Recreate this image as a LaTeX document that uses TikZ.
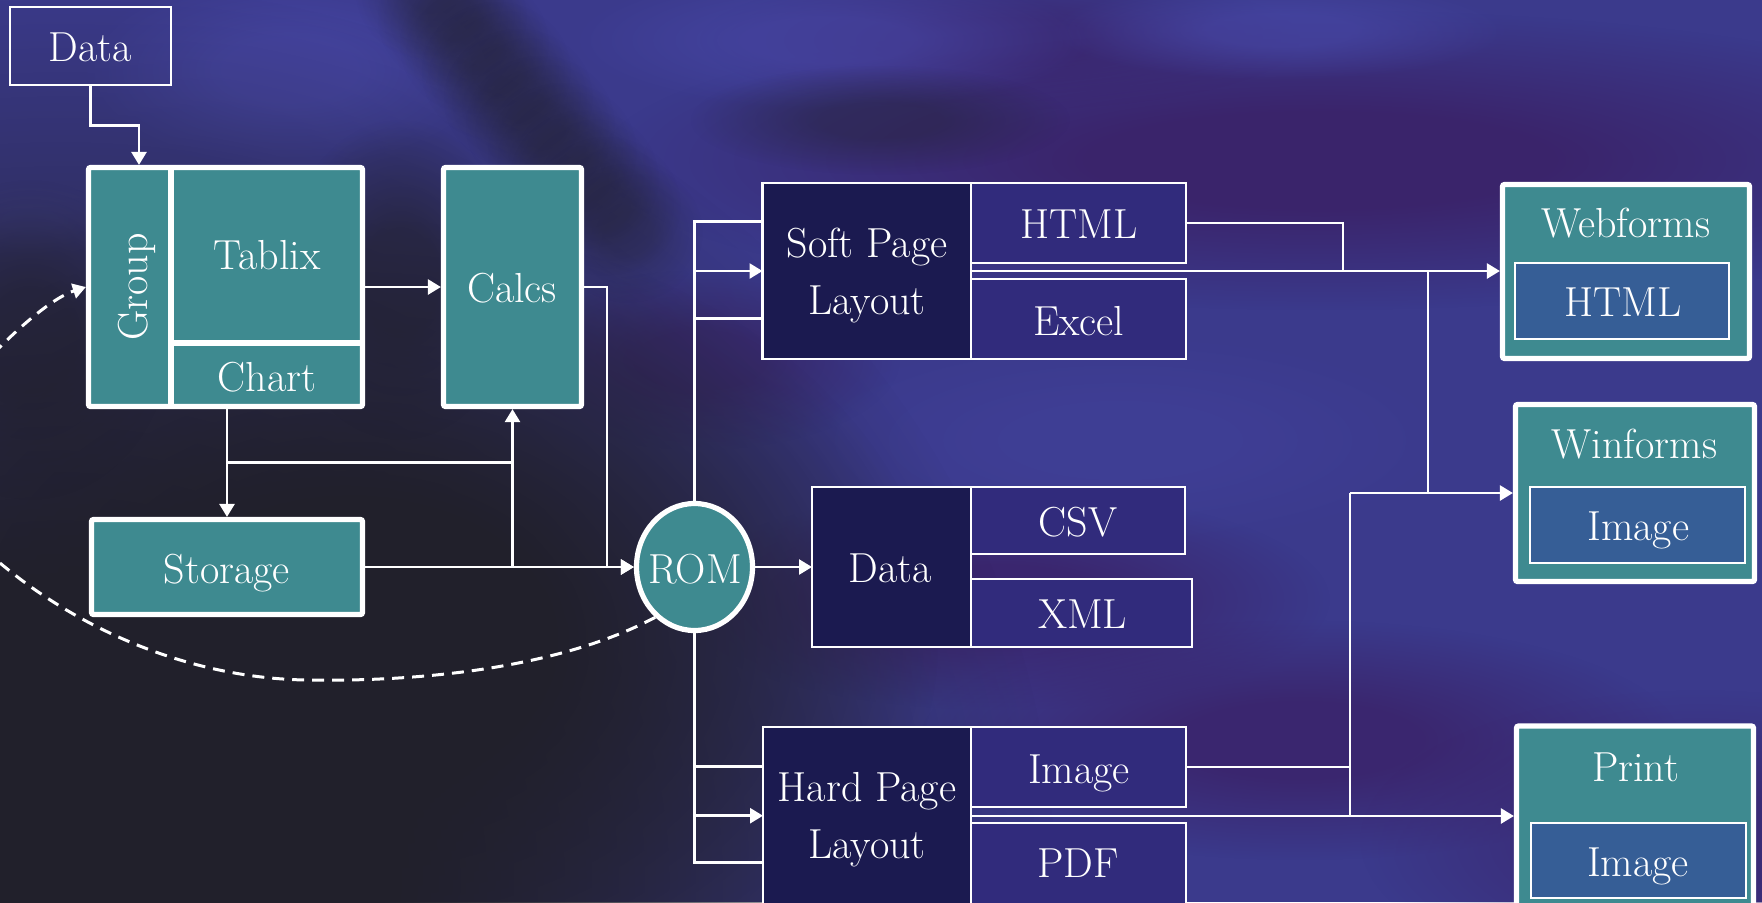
\documentclass[tikz,border=0pt]{standalone}
\usetikzlibrary{shapes.geometric,arrows.meta,calc,fadings}
\definecolor{cteal}{HTML}{3E8A90}
\definecolor{csteel}{HTML}{365E96}
\definecolor{cnavy}{HTML}{1B1A50}
\definecolor{cmid}{HTML}{312B7C}
\definecolor{bgblue}{HTML}{3B3A8C}
\definecolor{bgpurple}{HTML}{3A2268}
\definecolor{bgdark}{HTML}{21202B}
\definecolor{bglight}{HTML}{4848A8}
\pgfdeclareradialshading{platsh}{\pgfpointorigin}{color(0bp)=(pgftransparent!0); color(8bp)=(pgftransparent!0); color(25bp)=(pgftransparent!100); color(50bp)=(pgftransparent!100)}
\pgfdeclarefading{plateau}{\pgfuseshading{platsh}}
\newcommand\blob[6]{\fill[#1,opacity=#6,path fading=plateau] (#2,#3) ellipse [x radius=#4, y radius=#5];}
\begin{document}
\begin{tikzpicture}[x=0.5pt,y=-0.5pt,
  font=\fontsize{21}{28.5}\selectfont,
  sz/.style 2 args={minimum width=#1*0.5pt, minimum height=#2*0.5pt},
  tbox/.style={draw=white,line width=2.6pt,fill=cteal,inner sep=0pt,outer sep=1.3pt,rounded corners=1pt},
  nbox/.style={draw=white,line width=1.2pt,inner sep=0pt,outer sep=0pt},
  lbl/.style={text=white,inner sep=0pt,anchor=base},
  conn/.style={white,line width=1.3pt},
  arr/.style={conn,-{Triangle[length=6.5pt,width=7.5pt]}}]
\useasboundingbox (0,0) rectangle (1762,902);
\begin{scope}
\clip (0,0) rectangle (1762,902);
\fill[bgblue] (0,0) rectangle (1762,902);
% purple areas
\blob{bgpurple}{1320}{160}{720}{150}{0.9}
\blob{bgpurple}{1000}{40}{300}{70}{0.6}
\blob{bgpurple}{1000}{600}{330}{110}{0.8}
\blob{bgpurple}{1300}{740}{380}{120}{0.8}
\blob{bgpurple}{1700}{840}{340}{150}{0.6}
\blob{bgpurple}{700}{360}{200}{90}{0.6}
% light blue areas
\blob{bglight}{290}{70}{210}{100}{0.7}
\blob{bglight}{830}{40}{260}{70}{0.6}
\blob{bglight}{1280}{30}{230}{50}{0.6}
\blob{bglight}{1120}{440}{340}{110}{0.3}
\blob{bglight}{30}{220}{90}{40}{0.5}
% dark areas
\blob{bgdark}{60}{880}{1000}{900}{1}
\blob{bgdark}{360}{640}{580}{420}{1}
\foreach \t in {0,0.1,...,1.0}{\blob{bgdark}{430+220*\t}{-10+270*\t}{75}{70}{0.3}}
\blob{bgdark}{880}{120}{190}{55}{0.4}
\blob{bgdark}{400}{280}{120}{160}{0.6}
\blob{bgdark}{30}{340}{140}{160}{0.6}
\end{scope}
% top data box
\node[nbox,sz={161}{78}] (src) at (90.5,46) {};
\node[lbl] at (90.5,61) {Data};
% group / tablix / chart
\node[tbox,sz={274}{239}] (big) at (225.5,287) {};
\draw[white,line width=3pt] (171,167) -- (171,407);
\draw[white,line width=3pt] (171,343) -- (363,343);
\node[lbl,rotate=90] at (147,287) {Group};
\node[lbl] at (267,269) {Tablix};
\node[lbl] at (267,391) {Chart};
% calcs
\node[tbox,sz={138}{239}] (calcs) at (512.5,287) {};
\node[lbl] at (512,302) {Calcs};
% storage
\node[tbox,sz={271}{95}] (stor) at (227,567) {};
\node[lbl] at (227,583) {Storage};
% ROM
\node[tbox,ellipse,sz={116}{127}] (rom) at (694.5,567) {};
\node[lbl] at (695,583) {ROM};
% soft page layout
\node[nbox,fill=cnavy,sz={208.5}{176}] (soft) at (866.75,271) {};
\node[text=white,inner sep=0pt,align=center] at (867,276) {Soft Page\\Layout};
\node[nbox,fill=cmid,sz={215}{80}] (html1) at (1078.5,223) {};
\node[lbl] at (1078.8,238.3) {HTML};
\node[nbox,fill=cmid,sz={215}{80}] (excel) at (1078.5,319) {};
\node[lbl] at (1078.8,335) {Excel};
% data
\node[nbox,fill=cnavy,sz={159}{160}] (dat) at (891.5,567) {};
\node[lbl] at (890,582.7) {Data};
\node[nbox,fill=cmid,sz={214}{67}] (csv) at (1078,520.5) {};
\node[lbl] at (1078,536.7) {CSV};
\node[nbox,fill=cmid,sz={221}{68}] (xml) at (1081.5,613) {};
\node[lbl] at (1082.5,628.3) {XML};
% hard page layout
\node[nbox,fill=cnavy,sz={208}{178}] (hard) at (867,816) {};
\node[text=white,inner sep=0pt,align=center] at (867,819.4) {Hard Page\\Layout};
\node[nbox,fill=cmid,sz={215}{80}] (img1) at (1078.5,767) {};
\node[lbl] at (1079,783.3) {Image};
\node[nbox,fill=cmid,sz={215}{82}] (pdf) at (1078.5,864) {};
\node[lbl] at (1078,877.7) {PDF};
% right column
\node[tbox,sz={247}{174}] (web) at (1626,271.5) {};
\node[lbl] at (1625.8,237.3) {Webforms};
\node[nbox,fill=csteel,sz={214}{76}] (webi) at (1622,301) {};
\node[lbl] at (1623,316) {HTML};
\node[tbox,sz={239}{177}] (win) at (1635,493) {};
\node[lbl] at (1634.5,458.3) {Winforms};
\node[nbox,fill=csteel,sz={215}{76}] (wini) at (1637.5,525) {};
\node[lbl] at (1638.3,540.7) {Image};
\node[tbox,sz={237}{180}] (print) at (1635,816) {};
\node[lbl] at (1635.5,781) {Print};
\node[nbox,fill=csteel,sz={215}{75}] (printi) at (1638.5,860.5) {};
\node[lbl] at (1638,876.7) {Image};
% connectors
\coordinate (j0) at (139,125.7);
\draw[arr] (src.south) |- (j0) -- (j0 |- big.north);
\draw[arr] (big) -- (calcs);
\coordinate (c1) at (607,567);
\draw[arr] (calcs.east) -| (c1) -- (rom.west);
\draw[arr] (big.south -| stor.north) -- (stor.north);
\coordinate (k1) at (227,462.7);
\coordinate (k2) at (512.5,462.7);
\draw[conn] (k1) -- (k2);
\draw[arr] (stor.east -| calcs.south) -- (calcs.south);
\draw[arr] (stor.east) -- (rom.west);
\draw[arr] (rom.east) -- (dat.west);
\coordinate (s1) at ([yshift=24.65pt]soft.west);
\coordinate (s3) at ([yshift=-23.65pt]soft.west);
\draw[conn] (rom.north) |- (s1);
\draw[arr] (rom.north |- soft.west) -- (soft.west);
\draw[conn] (rom.north |- s3) -- (s3);
\coordinate (h1) at (763,766.7);
\coordinate (h2) at (763,815.7);
\coordinate (h3) at (763,862.7);
\draw[conn] (rom.south) |- (h3);
\draw[conn] (rom.south |- h1) -- (h1);
\draw[arr] (rom.south |- h2) -- (h2);
\coordinate (r1) at (1343,271);
\draw[conn] (html1.east) -| (r1);
\draw[arr] (soft.east) -- (soft.east -| web.west);
\coordinate (v1) at (1428,271);
\coordinate (v2) at (1428,493);
\draw[conn] (v1) -- (v2);
\coordinate (w1) at (1350,493);
\coordinate (w2) at (1350,816);
\draw[arr] (w1) -- (w1 -| win.west);
\draw[conn] (w1) -- (w2);
\draw[conn] (img1.east) -- (img1.east -| w1);
\draw[arr] (hard.east) -- (hard.east -| print.west);
\draw[conn,line width=1.5pt,dash pattern=on 6pt off 4pt,-{Triangle[length=6.5pt,width=7.5pt]}]
  (rom.-128) .. controls (560,668) and (420,682) .. (306,680)
  .. controls (190,678) and (80,630) .. (0,563)
  .. controls (-60,512) and (-50,397) .. (0,347)
  .. controls (25,322) and (55,297) .. (big.west);
\end{tikzpicture}
\end{document}
